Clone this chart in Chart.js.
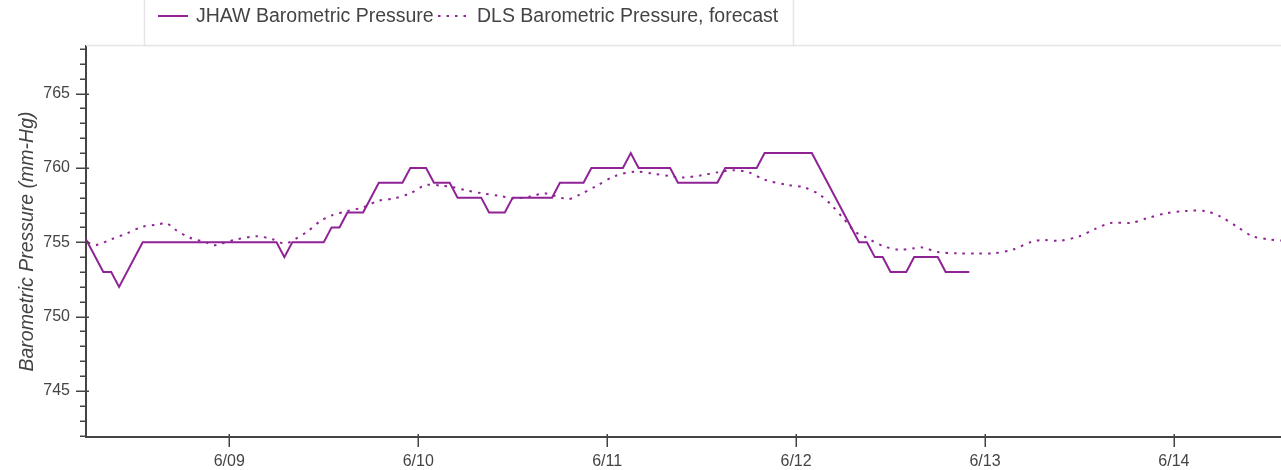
<!DOCTYPE html>
<html lang="en">
<head>
    <meta charset="UTF-8">
    <title>Barometric Pressure</title>
    <script src="https://cdn.jsdelivr.net/npm/chart.js"></script>
    <style>
        body { margin: 0; background: #fff; }
        canvas { display: block; }
    </style>
</head>
<body>
    <canvas id="pressureChart" width="1281" height="470"></canvas>

    <script>
        // hours counted from 6/09 00:00
        const jhawHours = [-19, -16, -15, -14, -11, 6, 7, 8, 12, 13, 14, 15, 17, 19, 22, 23, 25, 26, 28, 29,
            32, 33, 35, 36, 41, 42, 45, 46, 50, 51, 52, 56, 57, 62, 63, 67, 68, 74,
            80, 81, 82, 83, 84, 86, 87, 90, 91, 94];
        const jhawValues = [756, 753, 753, 752, 755, 755, 754, 755, 755, 756, 756, 757, 757, 759, 759, 760, 760, 759, 759, 758,
            758, 757, 757, 758, 758, 759, 759, 760, 760, 761, 760, 760, 759, 759, 760, 760, 761, 761,
            755, 755, 754, 754, 753, 753, 754, 754, 753, 753];

        const dlsHours = [-19, -18, -17, -15, -13, -11, -9, -8, -7, -5, -3, -2, -1, 1, 3.5, 5.5, 7, 8, 10, 11.5,
            13, 15, 17, 19, 21, 23, 25, 27, 28.5, 30, 32, 34.5, 36, 38.5, 40, 43, 44.5, 46.5, 49, 51.5,
            54, 56, 57.5, 60, 62, 64, 66, 68, 71, 73, 75, 76.5, 78, 79.5, 81, 83, 85, 87, 88, 90,
            92.5, 95, 97, 99.5, 102, 103.5, 105.5, 108, 110, 112, 114.5, 116.5, 119, 121.5, 124, 126, 128, 130, 132, 134, 136];
        const dlsValues = [755.1, 755.0, 754.8, 755.2, 755.6, 756.05, 756.2, 756.3, 755.9, 755.3, 755.0, 754.8, 754.9, 755.2, 755.4, 755.2, 754.9, 755.1, 755.75, 756.4,
            756.8, 757.1, 757.35, 757.8, 757.95, 758.3, 758.85, 758.8, 758.7, 758.5, 758.3, 758.1, 757.95, 758.1, 758.3, 757.9, 758.2, 758.75, 759.45, 759.75,
            759.6, 759.45, 759.35, 759.5, 759.7, 759.85, 759.7, 759.2, 758.85, 758.7, 758.2, 757.5, 756.6, 755.7, 755.3, 754.75, 754.5, 754.6, 754.65, 754.35,
            754.25, 754.25, 754.25, 754.5, 755.05, 755.15, 755.1, 755.4, 755.9, 756.3, 756.3, 756.6, 756.95, 757.1, 757.1, 756.7, 756.05, 755.4, 755.2, 755.1, 755.1];

        const dayTicks = [0, 24, 48, 72, 96, 120];
        const dayLabels = ['6/09', '6/10', '6/11', '6/12', '6/13', '6/14'];
        const yMajorTicks = [745, 750, 755, 760, 765];

        const lineColor = '#8f2396';
        const axisColor = '#444';
        const textColor = '#444';
        const FONT = "'Liberation Sans', Arial, sans-serif";

        const toPoints = (xs, ys) => xs.map((h, i) => ({ x: h, y: ys[i] }));

        // legend box, outline, and bokeh-style ticks
        const extras = {
            id: 'extras',
            beforeDatasetsDraw(chart) {
                const ctx = chart.ctx, a = chart.chartArea;
                ctx.save();
                ctx.strokeStyle = '#e5e5e5';
                ctx.lineWidth = 1.5;
                ctx.beginPath();
                ctx.moveTo(a.left, a.top - 0.5);
                ctx.lineTo(a.right, a.top - 0.5);
                ctx.stroke();
                ctx.restore();
            },
            afterDraw(chart) {
                const ctx = chart.ctx, a = chart.chartArea;
                const xs = chart.scales.x, ys = chart.scales.y;
                ctx.save();
                ctx.strokeStyle = axisColor;
                ctx.lineWidth = 1.5;
                ctx.beginPath();
                for (let v = Math.ceil(ys.min); v <= ys.max; v++) {
                    const py = Math.round(ys.getPixelForValue(v)) + 0.25;
                    if (v % 5 === 0) {
                        ctx.moveTo(a.left - 10, py);
                        ctx.lineTo(a.left + 3, py);
                    } else {
                        ctx.moveTo(a.left - 6, py);
                        ctx.lineTo(a.left, py);
                    }
                }
                dayTicks.forEach(h => {
                    const px = Math.round(xs.getPixelForValue(h)) + 0.25;
                    ctx.moveTo(px, a.bottom - 3);
                    ctx.lineTo(px, a.bottom + 10);
                });
                ctx.stroke();

                // legend
                ctx.fillStyle = '#fff';
                ctx.fillRect(144, -2, 649, 47);
                ctx.strokeStyle = '#e5e5e5';
                ctx.lineWidth = 1.5;
                ctx.strokeRect(144.5, -2, 649, 47.5);

                ctx.strokeStyle = lineColor;
                ctx.lineWidth = 2;
                ctx.beginPath();
                ctx.moveTo(158, 16);
                ctx.lineTo(188, 16);
                ctx.stroke();

                ctx.setLineDash([2.5, 6]);
                ctx.beginPath();
                ctx.moveTo(438, 16);
                ctx.lineTo(470, 16);
                ctx.stroke();
                ctx.setLineDash([]);

                ctx.fillStyle = textColor;
                ctx.font = '19.5px ' + FONT;
                ctx.textBaseline = 'middle';
                ctx.fillText('JHAW Barometric Pressure', 196, 17);
                ctx.fillText('DLS Barometric Pressure, forecast', 477, 17);
                ctx.restore();
            }
        };

        const ctx = document.getElementById('pressureChart').getContext('2d');
        new Chart(ctx, {
            type: 'line',
            data: {
                datasets: [{
                    label: 'JHAW Barometric Pressure',
                    data: toPoints(jhawHours, jhawValues),
                    borderColor: lineColor,
                    borderWidth: 2,
                    pointRadius: 0,
                    tension: 0,
                    fill: false
                }, {
                    label: 'DLS Barometric Pressure, forecast',
                    data: toPoints(dlsHours, dlsValues),
                    borderColor: lineColor,
                    borderWidth: 2,
                    borderDash: [2.5, 6],
                    pointRadius: 0,
                    tension: 0.3,
                    fill: false
                }]
            },
            options: {
                responsive: false,
                maintainAspectRatio: false,
                devicePixelRatio: 1,
                animation: false,
                layout: { padding: { top: 46, left: 0, right: 0, bottom: 0 } },
                plugins: {
                    legend: { display: false },
                    tooltip: { enabled: false }
                },
                scales: {
                    x: {
                        type: 'linear',
                        min: -18.2,
                        max: 133.6,
                        afterBuildTicks: s => { s.ticks = dayTicks.map(v => ({ value: v })); },
                        afterFit: s => { s.height = 33; },
                        ticks: {
                            callback: v => dayLabels[dayTicks.indexOf(v)],
                            color: textColor,
                            font: { family: FONT, size: 16 },
                            padding: 15,
                            maxRotation: 0,
                            autoSkip: false
                        },
                        grid: { display: true, drawOnChartArea: false, drawTicks: false },
                        border: { color: axisColor, width: 2 }
                    },
                    y: {
                        min: 741.9,
                        max: 768.2,
                        afterBuildTicks: s => { s.ticks = yMajorTicks.map(v => ({ value: v })); },
                        afterFit: s => { s.width = 86; },
                        ticks: {
                            color: textColor,
                            font: { family: FONT, size: 16 },
                            padding: 16
                        },
                        grid: { display: true, drawOnChartArea: false, drawTicks: false },
                        border: { color: axisColor, width: 2 },
                        title: {
                            display: true,
                            text: 'Barometric Pressure (mm-Hg)',
                            color: textColor,
                            font: { family: FONT, size: 19.5, style: 'italic' },
                            padding: { top: 16, bottom: 0 }
                        }
                    }
                }
            },
            plugins: [extras]
        });
    </script>
</body>
</html>
